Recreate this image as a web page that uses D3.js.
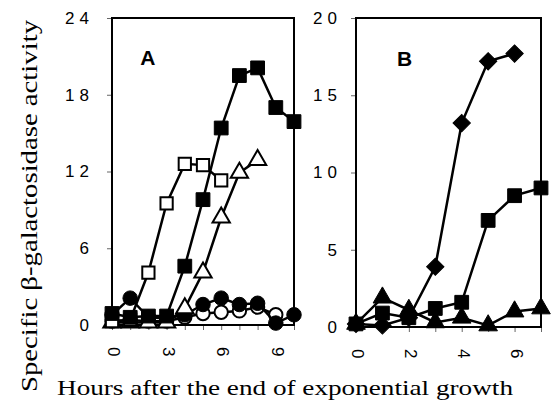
<!DOCTYPE html>
<html>
<head>
<meta charset="utf-8">
<script src="https://cdn.jsdelivr.net/npm/d3@7"></script>
<style>
  body { margin: 0; background: #fff; }
  svg { display: block; }
</style>
</head>
<body>
<svg id="chart" width="552" height="417"></svg>
<script>
// Panel A: hours 0..10
const hoursA = [0, 1, 2, 3, 4, 5, 6, 7, 8, 9, 10];
const filledSquareA = [0.9, 0.6, 0.7, 0.7, 4.6, 9.8, 15.4, 19.5, 20.1, 17.0, 15.9];
const openSquareA = [0.3, 0.4, 4.1, 9.5, 12.6, 12.5, 11.3];
const openTriangleA = [0.2, 0.2, 0.2, 0.2, 1.3, 4.1, 8.4, 11.9, 12.9];
const openCircleA = [0.3, 0.4, 0.3, 0.3, 0.6, 0.9, 1.0, 1.1, 1.4, 0.8];
const filledCircleA = [0.8, 2.1, 0.6, 0.5, 0.8, 1.6, 2.1, 1.6, 1.7, 0.15, 0.8];
const yTicksA = [0, 6, 12, 18, 24];
const xTicksLabelA = [0, 3, 6, 9];

// Panel B: hours 0..7
const hoursB = [0, 1, 2, 3, 4, 5, 6, 7];
const diamondB = [0.2, 0.1, 0.6, 3.9, 13.2, 17.2, 17.7];
const squareB = [0.2, 0.9, 0.6, 1.2, 1.6, 6.9, 8.5, 9.0];
const triangleB = [0.2, 1.9, 1.1, 0.3, 0.6, 0.1, 1.0, 1.2];
const yTicksB = [0, 5, 10, 15, 20];
const xTicksLabelB = [0, 2, 4, 6];

const svg = d3.select("#chart");

function series(hours, vals) {
  return vals.map((v, i) => ({ x: hours[i], y: v }));
}

function drawPanel(opts) {
  const x = d3.scaleLinear().domain(opts.xDomain).range([opts.left, opts.right]);
  const y = d3.scaleLinear().domain(opts.yDomain).range([opts.bottom, opts.top]);
  const g = svg.append("g");

  // y axis ticks + labels
  const yAxis = d3.axisLeft(y).tickValues(opts.yTicks).tickSize(5).tickPadding(opts.yPad);
  const ya = g.append("g").attr("transform", `translate(${opts.left},0)`).call(yAxis);
  ya.select(".domain").remove();
  ya.selectAll("line").attr("stroke", "#666").attr("stroke-width", 1);
  ya.selectAll("text")
    .attr("font-family", "Liberation Sans, Arial, sans-serif")
    .attr("font-size", 17)
    .attr("letter-spacing", 5)
    .attr("fill", "#000");

  // x axis ticks every hour
  const xAxis = d3.axisBottom(x).tickValues(d3.range(opts.xDomain[0], opts.xDomain[1] + 1)).tickSize(5).tickFormat("");
  const xa = g.append("g").attr("transform", `translate(0,${opts.bottom})`).call(xAxis);
  xa.select(".domain").remove();
  xa.selectAll("line").attr("stroke", "#666").attr("stroke-width", 1);

  g.selectAll(".xl")
    .data(opts.xLabels)
    .enter()
    .append("text")
    .attr("transform", d => `translate(${x(d) + 2},${opts.bottom + 22}) rotate(90)`)
    .attr("dy", "0.35em")
    .attr("text-anchor", "start")
    .attr("font-family", "Liberation Sans, Arial, sans-serif")
    .attr("font-size", 17)
    .text(d => d);

  // frame
  g.append("rect")
    .attr("x", opts.left).attr("y", opts.top)
    .attr("width", opts.right - opts.left).attr("height", opts.bottom - opts.top)
    .attr("fill", "none").attr("stroke", "#000").attr("stroke-width", 2);

  // panel letter
  g.append("text")
    .attr("x", x(opts.letterPos[0])).attr("y", y(opts.letterPos[1]))
    .attr("font-family", "Liberation Sans, Arial, sans-serif")
    .attr("font-weight", "bold").attr("font-size", 21)
    .text(opts.letter);

  const line = d3.line().x(d => x(d.x)).y(d => y(d.y));

  opts.series.forEach(s => {
    const pts = series(s.hours, s.vals);
    g.append("path")
      .datum(pts)
      .attr("d", line)
      .attr("fill", "none")
      .attr("stroke", "#000")
      .attr("stroke-width", 2.5);

    const sym = d3.symbol().type(s.shape).size(s.size);
    g.selectAll(null)
      .data(pts)
      .enter()
      .append("path")
      .attr("d", sym)
      .attr("transform", d => `translate(${x(d.x)},${y(d.y)})` + (s.rot ? " rotate(45)" : ""))
      .attr("fill", s.filled ? "#000" : "#fff")
      .attr("stroke", "#000")
      .attr("stroke-width", s.filled ? 1 : 2);
  });
}

drawPanel({
  left: 112, right: 294, top: 18, bottom: 325,
  xDomain: [0, 10], yDomain: [0, 24],
  yTicks: yTicksA, xLabels: xTicksLabelA, yPad: 13,
  letter: "A", letterPos: [1.55, 20.3],
  series: [
    { hours: hoursA, vals: openCircleA, shape: d3.symbolCircle, size: 140, filled: false },
    { hours: hoursA, vals: filledCircleA, shape: d3.symbolCircle, size: 165, filled: true },
    { hours: hoursA, vals: openTriangleA, shape: d3.symbolTriangle, size: 130, filled: false },
    { hours: hoursA, vals: openSquareA, shape: d3.symbolSquare, size: 150, filled: false },
    { hours: hoursA, vals: filledSquareA, shape: d3.symbolSquare, size: 190, filled: true }
  ]
});

drawPanel({
  left: 356, right: 541, top: 18, bottom: 327,
  xDomain: [0, 7], yDomain: [0, 20],
  yTicks: yTicksB, xLabels: xTicksLabelB, yPad: 9,
  letter: "B", letterPos: [1.55, 16.9],
  series: [
    { hours: hoursB, vals: triangleB, shape: d3.symbolTriangle, size: 150, filled: true },
    { hours: hoursB, vals: squareB, shape: d3.symbolSquare, size: 190, filled: true },
    { hours: hoursB, vals: diamondB, shape: d3.symbolSquare, size: 150, filled: true, rot: true }
  ]
});

// axis titles
svg.append("text")
  .attr("transform", "translate(37,206) rotate(-90)")
  .attr("text-anchor", "middle")
  .attr("font-family", "Liberation Serif, Times New Roman, serif")
  .attr("font-size", 24)
  .attr("textLength", 372)
  .attr("lengthAdjust", "spacingAndGlyphs")
  .text("Specific β-galactosidase activity");

svg.append("text")
  .attr("x", 285).attr("y", 395)
  .attr("text-anchor", "middle")
  .attr("font-family", "Liberation Serif, Times New Roman, serif")
  .attr("font-size", 22)
  .attr("textLength", 456)
  .attr("lengthAdjust", "spacingAndGlyphs")
  .text("Hours after the end of exponential growth");
</script>
</body>
</html>
